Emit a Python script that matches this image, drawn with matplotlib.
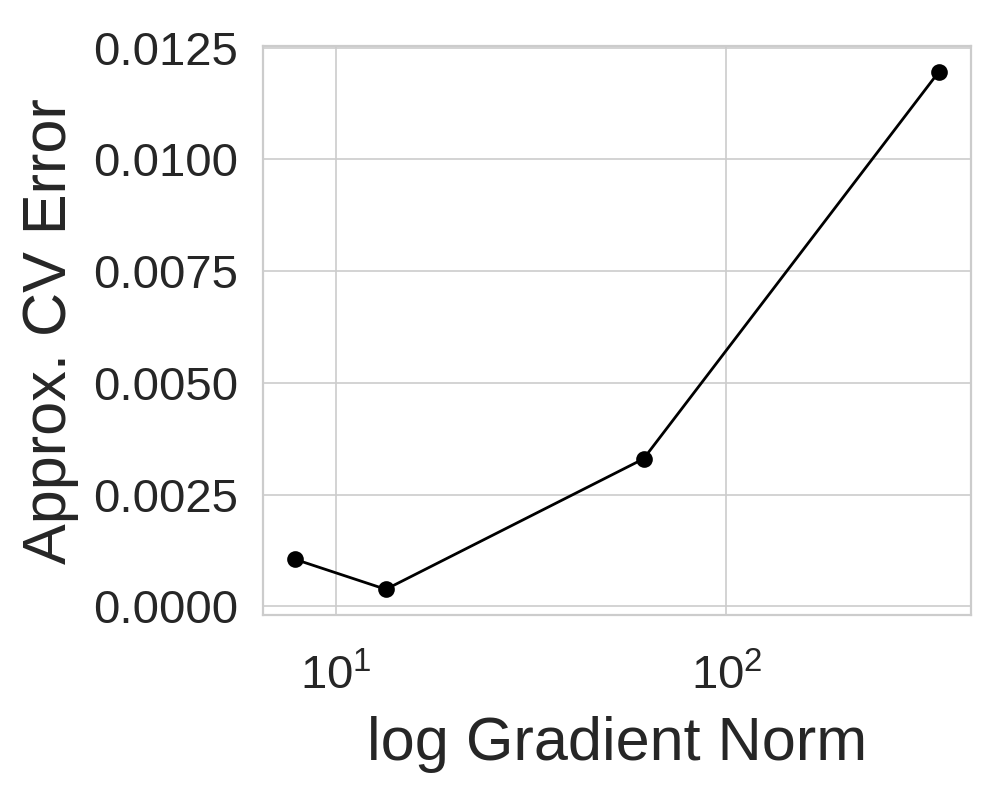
import matplotlib
matplotlib.use("Agg")
import matplotlib.pyplot as plt
import seaborn as sns

sns.set_theme(style="whitegrid")
plt.rcParams['font.family'] = ['Liberation Sans', 'DejaVu Sans']

grad_norm = [7.85, 13.4, 61.3, 350.0]
cv_error = [0.00105, 0.00038, 0.0033, 0.01196]

fig = plt.figure(figsize=(5, 4), dpi=200)
ax = fig.add_axes([0.263, 0.231, 0.708, 0.7115])
ax.plot(grad_norm, cv_error, color='black', marker='o', markersize=5, linewidth=1)
ax.set_xscale('log')
ax.set_yticks([0.0, 0.0025, 0.005, 0.0075, 0.01, 0.0125])
ax.set_yticklabels(['0.0000', '0.0025', '0.0050', '0.0075', '0.0100', '0.0125'])
ax.tick_params(axis='y', labelsize=17, pad=3)
ax.tick_params(axis='x', labelsize=17, pad=8)
for s in ax.spines.values():
    s.set_linewidth(0.8)
ax.grid(linewidth=0.6)
ax.set_xlabel('log Gradient Norm', fontsize=22, labelpad=6)
ax.set_ylabel('Approx. CV Error', fontsize=22, labelpad=5)
fig.savefig('out.png', dpi=200)
